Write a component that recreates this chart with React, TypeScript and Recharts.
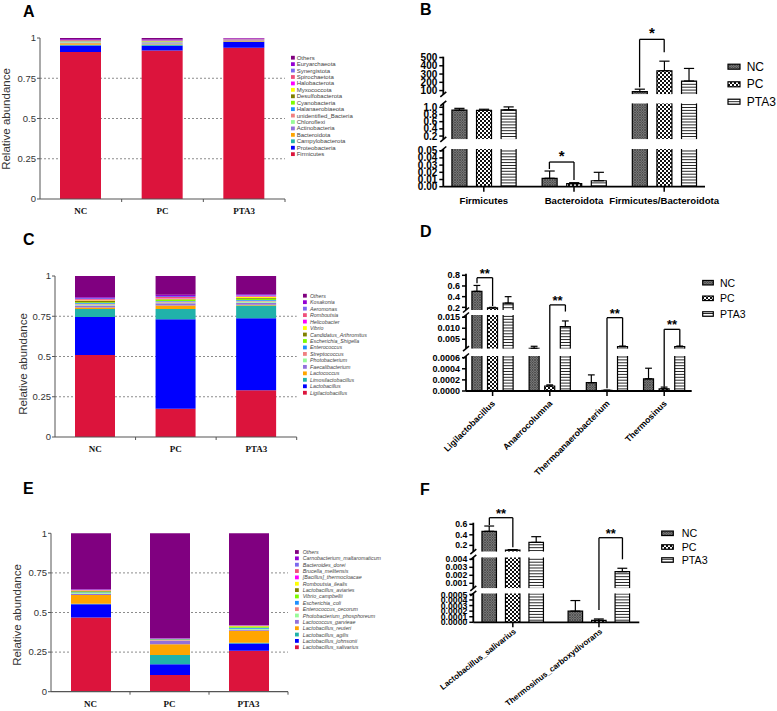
import React from 'react';
import { BarChart, Bar, XAxis, YAxis, CartesianGrid, ErrorBar, ReferenceLine } from 'recharts';

const FONT = '"Liberation Sans", Arial, Helvetica, sans-serif';
const SERIF = '"Liberation Serif", "Times New Roman", serif';

// ---------------- data: stacked panels (bottom -> top order) ----------------
const groups = ['NC', 'PC', 'PTA3'];
const stackColors = ['#DC143C', '#0000FF', '#20B2AA', '#FFA500', '#9370DB', '#98FB98', '#F08080', '#1E90FF', '#7CFC00', '#808000', '#FFFF00', '#FF00FF', '#F0507A', '#7B68EE', '#9400D3', '#800080'];
const stackTicks = [0, 0.25, 0.5, 0.75, 1];
const gridValues = [0.25, 0.5, 0.75];

const phyla = ['Firmicutes', 'Proteobacteria', 'Campylobacterota', 'Bacteroidota', 'Actinobacteria', 'Chloroflexi', 'unidentified_Bacteria', 'Halanaerobiaeota', 'Cyanobacteria', 'Desulfobacterota', 'Myxococcota', 'Halobacterota', 'Spirochaetota', 'Synergistota', 'Euryarchaeota', 'Others'];
const phylaNC = [0.913, 0.041, 0.004, 0.010, 0.004, 0.003, 0.003, 0.002, 0.002, 0.002, 0.001, 0.001, 0.001, 0.001, 0.004, 0.008];
const phylaPC = [0.923, 0.029, 0.006, 0.003, 0.006, 0.003, 0.004, 0.002, 0.002, 0.002, 0.001, 0.001, 0.002, 0.002, 0.004, 0.010];
const phylaPTA3 = [0.940, 0.037, 0.001, 0.007, 0.002, 0.001, 0.001, 0.001, 0.001, 0.001, 0.001, 0.001, 0.001, 0.001, 0.002, 0.002];

const genera = ['Ligilactobacillus', 'Lactobacillus', 'Limosilactobacillus', 'Lactococcus', 'Faecalibacterium', 'Photobacterium', 'Streptococcus', 'Enterococcus', 'Escherichia_Shigella', 'Candidatus_Arthromitus', 'Vibrio', 'Helicobacter', 'Romboutsia', 'Aeromonas', 'Kosakonia', 'Others'];
const generaNC = [0.51, 0.235, 0.05, 0.01, 0.012, 0.006, 0.005, 0.004, 0.005, 0.008, 0.004, 0.003, 0.005, 0.006, 0.005, 0.132];
const generaPC = [0.176, 0.555, 0.064, 0.022, 0.014, 0.005, 0.006, 0.003, 0.008, 0.003, 0.004, 0.004, 0.006, 0.006, 0.008, 0.116];
const generaPTA3 = [0.29, 0.447, 0.079, 0.006, 0.012, 0.007, 0.006, 0.004, 0.008, 0.005, 0.005, 0.004, 0.005, 0.004, 0.004, 0.114];

const species = ['Lactobacillus_salivarius', 'Lactobacillus_johnsonii', 'Lactobacillus_agilis', 'Lactobacillus_reuteri', 'Lactococcus_garvieae', 'Photobacterium_phosphoreum', 'Enterococcus_cecorum', 'Escherichia_coli', 'Vibrio_campbellii', 'Lactobacillus_aviaries', 'Romboutsia_ilealis', '[Bacillus]_thermocloacae', 'Brucella_melitensis', 'Bacteroides_dorei', 'Carnobacterium_maltaromaticum', 'Others'];
const speciesNC = [0.469, 0.083, 0.004, 0.055, 0.008, 0.004, 0.002, 0.003, 0.004, 0.004, 0.003, 0.002, 0.001, 0.002, 0.002, 0.354];
const speciesPC = [0.105, 0.068, 0.059, 0.067, 0.022, 0.003, 0.002, 0.003, 0.002, 0.001, 0.001, 0.001, 0.001, 0.001, 0.001, 0.663];
const speciesPTA3 = [0.259, 0.046, 0.004, 0.076, 0.006, 0.005, 0.002, 0.006, 0.005, 0.003, 0.003, 0.002, 0.001, 0.001, 0.001, 0.58];

// ---------------- data: broken-axis panels ----------------
const catsB = ['Firmicutes', 'Bacteroidota', 'Firmicutes/Bacteroidota'];
const bNC = [0.92, 0.0117, 88];
const bNCErr = [0.05, 0.0101, 29];
const bPC = [0.915, 0.0042, 340];
const bPCErr = [0.03, 0.0014, 116];
const bPTA3 = [0.93, 0.0083, 216];
const bPTA3Err = [0.08, 0.0117, 152];

const catsD = ['Ligilactobacillus', 'Anaerocolumna', 'Thermoanaerobacterium', 'Thermosinus'];
const dNC = [0.5, 0.0009, 0.00015, 0.00022];
const dNCErr = [0.11, 0.0009, 0.00014, 0.00019];
const dPC = [0.19, 0.00009, 0.00001, 0.00004];
const dPCErr = [0.01, 0.00002, 0.000005, 0.00003];
const dPTA3 = [0.28, 0.0107, 0.0016, 0.0016];
const dPTA3Err = [0.12, 0.0026, 0.0003, 0.0003];

const catsF = ['Lactobacillus_salivarius', 'Thermosinus_carboxydivorans'];
const fNC = [0.467, 0.0002];
const fNCErr = [0.1, 0.00019];
const fPC = [0.11, 0.000036];
const fPCErr = [0.01, 0.000024];
const fPTA3 = [0.257, 0.00245];
const fPTA3Err = [0.108, 0.00043];

type Seg = { top: number; bottom: number; domain: [number, number]; ticks: number[]; digits: number };
type Sig = { cat: string; from: number; to: number; seg: number; y: number; y1: number; y2: number; text: string };

const sigB: Sig[] = [
  { cat: 'Bacteroidota', from: 0, to: 1, seg: 2, y: 0.0343, y1: 0.0246, y2: 0.0093, text: '*' },
  { cat: 'Firmicutes/Bacteroidota', from: 0, to: 1, seg: 0, y: 720, y1: 140, y2: 563, text: '*' },
];
const sigD: Sig[] = [
  { cat: 'Ligilactobacillus', from: 0, to: 1, seg: 0, y: 0.755, y1: 0.65, y2: 0.225, text: '**' },
  { cat: 'Anaerocolumna', from: 1, to: 2, seg: 2, y: 0.00155, y1: 0.00014, y2: 0.00143, text: '**' },
  { cat: 'Thermoanaerobacterium', from: 1, to: 2, seg: 2, y: 0.00132, y1: 0.00005, y2: 0.00081, text: '**' },
  { cat: 'Thermosinus', from: 1, to: 2, seg: 2, y: 0.00111, y1: 0.000077, y2: 0.00081, text: '**' },
];
const sigF: Sig[] = [
  { cat: 'Lactobacillus_salivarius', from: 0, to: 1, seg: 0, y: 0.725, y1: 0.586, y2: 0.163, text: '**' },
  { cat: 'Thermosinus_carboxydivorans', from: 1, to: 2, seg: 2, y: 0.001517, y1: 0.00022, y2: 0.00113, text: '**' },
];

const segsB: Seg[] = [
  { top: 56.7, bottom: 94.3, domain: [55, 510], ticks: [100, 200, 300, 400, 500], digits: 0 },
  { top: 103.3, bottom: 139.3, domain: [0.11, 1.11], ticks: [0.2, 0.4, 0.6, 0.8, 1.0], digits: 1 },
  { top: 149, bottom: 186.7, domain: [0, 0.0524], ticks: [0, 0.01, 0.02, 0.03, 0.04, 0.05], digits: 2 },
];
const segsD: Seg[] = [
  { top: 273.7, bottom: 310, domain: [0.15, 0.83], ticks: [0.2, 0.4, 0.6, 0.8], digits: 1 },
  { top: 315, bottom: 348.7, domain: [0.0007, 0.016], ticks: [0.005, 0.01, 0.015], digits: 3 },
  { top: 356, bottom: 391, domain: [0, 0.00063], ticks: [0, 0.0002, 0.0004, 0.0006], digits: 4 },
];
const segsF: Seg[] = [
  { top: 522.7, bottom: 551.7, domain: [0.08, 0.63], ticks: [0.2, 0.4, 0.6], digits: 1 },
  { top: 557.3, bottom: 588.3, domain: [0.000375, 0.00425], ticks: [0.001, 0.002, 0.003, 0.004], digits: 3 },
  { top: 593.3, bottom: 622.3, domain: [0, 0.00052], ticks: [0, 0.0001, 0.0002, 0.0003, 0.0004, 0.0005], digits: 4 },
];

// ---------------- helpers ----------------
type Box = { left: number; top: number; width: number; height: number };
type Plot = { left: number; right: number; top: number; bottom: number };

function stackRows(names: string[], perGroup: number[][]) {
  return groups.map((g, gi) => {
    const row: Record<string, any> = { group: g };
    names.forEach((_, i) => {
      row['s' + i] = perGroup[gi][i];
    });
    return row;
  });
}

const SLOT_OF = [2, 5, 8];
const slotKey = (c: string, k: number) => `${c}#${k}`;
type SlotRow = { slot: string; group: string | null; value: number | null; err: number | null; label: string | null };

function buildSlots(cats: string[], vals: number[][], errs: number[][]): SlotRow[] {
  const rows: SlotRow[] = [];
  cats.forEach((c, ci) => {
    for (let k = 0; k < 11; k++) {
      const gi = SLOT_OF.indexOf(k);
      rows.push({
        slot: slotKey(c, k),
        group: gi >= 0 ? groups[gi] : null,
        value: gi >= 0 ? vals[gi][ci] : null,
        err: gi >= 0 ? errs[gi][ci] : null,
        label: k === 5 ? c : null,
      });
    }
  });
  return rows.slice(1, -1);
}

function segRows(rows: SlotRow[], seg: Seg) {
  const [lo, hi] = seg.domain;
  return rows.map((r) => {
    if (r.value == null || r.value < lo) return { ...r, v: null, e: null };
    const inside = r.value <= hi;
    return { ...r, v: Math.min(r.value, hi), e: inside ? [0, Math.min(r.err ?? 0, hi - r.value)] : null };
  });
}

function barShape(p: any, barW: number, hi: number) {
  const { x, y, width, height, payload } = p;
  if (!payload || payload.v == null || !isFinite(x) || !isFinite(y)) return <g />;
  const cx = x + width / 2;
  const l = cx - barW / 2;
  const r = cx + barW / 2;
  const top = Math.min(y, y + height);
  const bot = Math.max(y, y + height);
  const open = payload.value > hi;
  const d = open ? `M${l},${bot}V${top}M${r},${top}V${bot}` : `M${l},${bot}V${top}H${r}V${bot}`;
  return (
    <g>
      <rect x={l} y={top} width={barW} height={bot - top} fill={`url(#pat${payload.group})`} />
      <path d={d} fill="none" stroke="#000" strokeWidth={1.2} />
    </g>
  );
}

const renderStackTick = (p: any) => {
  const { x, y, payload } = p;
  const half = payload && typeof payload.offset === 'number' ? payload.offset : 0;
  return (
    <g>
      {half > 0 && <line x1={x + half} x2={x + half} y1={y} y2={y + 3} stroke="#555" strokeWidth={1} />}
      <text x={x} y={y + 15} textAnchor="middle" fontFamily={SERIF} fontWeight={700} fontSize={9} fill="#111">
        {payload.value}
      </text>
    </g>
  );
};

function PatternDefs() {
  return (
    <svg width={0} height={0} style={{ position: 'absolute', left: 0, top: 0 }}>
      <defs>
        <pattern id="patNC" width="2.5" height="2.5" patternUnits="userSpaceOnUse">
          <rect width="2.5" height="2.5" fill="#8a8a8a" />
          <path d="M0,0 L2.5,2.5 M2.5,0 L0,2.5" stroke="#2e2e2e" strokeWidth="0.6" />
        </pattern>
        <pattern id="patPC" width="4" height="4" patternUnits="userSpaceOnUse">
          <rect width="4" height="4" fill="#fff" />
          <rect width="2" height="2" fill="#111" />
          <rect x="2" y="2" width="2" height="2" fill="#111" />
        </pattern>
        <pattern id="patPTA3" width="4" height="2.9" patternUnits="userSpaceOnUse">
          <rect width="4" height="2.9" fill="#fff" />
          <rect y="0" width="4" height="0.9" fill="#111" />
        </pattern>
      </defs>
    </svg>
  );
}

type LegendSpec = { sx: number; tx: number; y0: number; step: number; fs: number; italic: boolean };

function StackPanel(props: { box: Box; plot: Plot; names: string[]; values: number[][]; barSize: number; title: { x: number; y: number }; legend: LegendSpec; tickFs: number }) {
  const { box, plot, names, values, barSize, title, legend, tickFs } = props;
  const rows = stackRows(names, values);
  const yw = plot.left - box.left;
  const xh = box.top + box.height - plot.bottom;
  const L = (x: number) => x - box.left;
  const T = (y: number) => y - box.top;
  return (
    <div style={{ position: 'absolute', left: box.left, top: box.top, width: box.width, height: box.height }}>
      <BarChart width={box.width} height={box.height} data={rows} barSize={barSize}
        margin={{ top: plot.top - box.top, right: box.left + box.width - plot.right, bottom: 0, left: 0 }}>
        <CartesianGrid vertical={false} horizontalValues={gridValues} stroke="#8c8c8c" strokeDasharray="2 2" />
        <XAxis dataKey="group" height={xh} interval={0} tickSize={0} tickMargin={0} tickLine={false}
          axisLine={{ stroke: '#555', strokeWidth: 1.2 }} tick={renderStackTick} />
        <YAxis width={yw} domain={[0, 1]} ticks={stackTicks} interval={0} tickSize={3} tickMargin={1} stroke="#555"
          tick={{ fontSize: tickFs, fill: '#333' }} tickFormatter={(v: number) => String(v)} />
        {names.map((n, i) => (
          <Bar key={n} dataKey={'s' + i} name={n} stackId="s" fill={stackColors[i]} isAnimationActive={false} />
        ))}
      </BarChart>
      <svg width={box.width} height={box.height} style={{ position: 'absolute', left: 0, top: 0, pointerEvents: 'none' }}>
        <text transform={`translate(${L(title.x)},${T(title.y)}) rotate(-90)`} textAnchor="middle" dominantBaseline="central" fontSize={11.5} fill="#333">
          Relative abundance
        </text>
        {names.map((n, i) => {
          const j = names.length - 1 - i;
          const y = T(legend.y0 + j * legend.step);
          return (
            <g key={n}>
              <rect x={L(legend.sx)} y={y - 1.9} width={3.8} height={3.8} fill={stackColors[i]} />
              <text x={L(legend.tx)} y={y} dominantBaseline="central" fontSize={legend.fs} fontStyle={legend.italic ? 'italic' : 'normal'} fill="#444">
                {n}
              </text>
            </g>
          );
        })}
      </svg>
    </div>
  );
}

type LabelSpec = { angle: number; fs: number; dx: number; dy: number };
type GLegend = { x: number; tx: number; ys: number[]; fs: number; swW: number; swH: number };

function BrokenPanel(props: {
  box: Box; axisLeft: number; axisRight: number; padL: number; padR: number; segs: Seg[];
  cats: string[]; vals: number[][]; errs: number[][]; sigs: Sig[]; barW: number; tickFs: number;
  label: LabelSpec; sigFs: number; sigOffset: number; legend: GLegend; yw: number;
}) {
  const { box, axisLeft, axisRight, padL, padR, segs, cats, vals, errs, sigs, barW, tickFs, label, sigFs, sigOffset, legend, yw } = props;
  const rows = buildSlots(cats, vals, errs);
  const L = (x: number) => x - box.left;
  const T = (y: number) => y - box.top;
  const last = segs.length - 1;
  const tick = (p: any) => {
    const { x, y, payload } = p;
    const row = rows.find((r) => r.slot === payload.value);
    if (!row || !row.label) return <g />;
    return (
      <g>
        <line x1={x} x2={x} y1={y} y2={y + 5} stroke="#000" strokeWidth={1.5} />
        {label.angle === 0 ? (
          <text x={x} y={y + label.dy} textAnchor="middle" fontSize={label.fs} fontWeight={700} fill="#000">
            {row.label}
          </text>
        ) : (
          <text x={x + label.dx} y={y + label.dy} dy="0.35em" textAnchor="end" fontSize={label.fs} fontWeight={700} fill="#000"
            transform={`rotate(${label.angle}, ${x + label.dx}, ${y + label.dy})`}>
            {row.label}
          </text>
        )}
      </g>
    );
  };
  return (
    <div style={{ position: 'absolute', left: box.left, top: box.top, width: box.width, height: box.height }}>
      {segs.map((seg, si) => {
        const isLast = si === last;
        const data = segRows(rows, seg);
        const below = box.top + box.height - seg.bottom;
        const hi = seg.domain[1];
        return (
          <div key={si} style={{ position: 'absolute', left: 0, top: 0 }}>
            <BarChart width={box.width} height={box.height} data={data}
              margin={{ top: seg.top - box.top, right: box.left + box.width - axisRight, bottom: isLast ? 0 : below, left: axisLeft - box.left - yw }}>
              <XAxis dataKey="slot" hide={!isLast} height={isLast ? below : 0} interval={0} tickSize={0} tickMargin={0} tickLine={false}
                padding={{ left: padL, right: padR }} axisLine={{ stroke: '#000', strokeWidth: 1.8 }} tick={tick} />
              <YAxis width={yw} domain={seg.domain} allowDataOverflow ticks={seg.ticks} interval={0} tickSize={4} tickMargin={2} stroke="#000"
                axisLine={{ stroke: '#000', strokeWidth: 1.8 }} tickLine={{ stroke: '#000', strokeWidth: 1.5 }}
                tick={{ fontSize: tickFs, fontWeight: 700, fill: '#000' }} tickFormatter={(v: number) => v.toFixed(seg.digits)} />
              <Bar dataKey="v" isAnimationActive={false} shape={(p: any) => barShape(p, barW, hi)}>
                <ErrorBar dataKey="e" width={barW * 0.34} stroke="#000" strokeWidth={1.2} isAnimationActive={false} />
              </Bar>
              {sigs.filter((s) => s.seg === si).flatMap((s, k) => {
                const xa = slotKey(s.cat, SLOT_OF[s.from]);
                const xb = slotKey(s.cat, SLOT_OF[s.to]);
                return [
                  <ReferenceLine key={`${k}a`} segment={[{ x: xa, y: s.y1 }, { x: xa, y: s.y }]} stroke="#000" strokeWidth={1.3} ifOverflow="visible" />,
                  <ReferenceLine key={`${k}b`} segment={[{ x: xa, y: s.y }, { x: xb, y: s.y }]} stroke="#000" strokeWidth={1.3} ifOverflow="visible"
                    label={{ value: s.text, position: 'top', offset: sigOffset, fontSize: sigFs, fontWeight: 700, fill: '#000' }} />,
                  <ReferenceLine key={`${k}c`} segment={[{ x: xb, y: s.y }, { x: xb, y: s.y2 }]} stroke="#000" strokeWidth={1.3} ifOverflow="visible" />,
                ];
              })}
            </BarChart>
          </div>
        );
      })}
      <svg width={box.width} height={box.height} style={{ position: 'absolute', left: 0, top: 0, pointerEvents: 'none' }}>
        {segs.slice(0, -1).map((s, i) => {
          const ax = L(axisLeft);
          const ya = T(s.bottom);
          const yb = T(segs[i + 1].top);
          return (
            <g key={i} stroke="#000" strokeWidth={1.6}>
              <line x1={ax - 3} y1={ya + 2.5} x2={ax + 3} y2={ya - 2.5} />
              <line x1={ax - 3} y1={yb + 2.5} x2={ax + 3} y2={yb - 2.5} />
            </g>
          );
        })}
        {groups.map((g, i) => (
          <g key={g}>
            <rect x={L(legend.x)} y={T(legend.ys[i]) - legend.swH / 2} width={legend.swW} height={legend.swH} fill={`url(#pat${g})`} stroke="#000" strokeWidth={1.2} />
            <text x={L(legend.tx)} y={T(legend.ys[i])} dominantBaseline="central" fontSize={legend.fs} fill="#000">
              {g}
            </text>
          </g>
        ))}
      </svg>
    </div>
  );
}

export default function App() {
  return (
    <div style={{ position: 'absolute', left: 0, top: 0, width: 777, height: 711, background: '#fff', overflow: 'hidden', fontFamily: FONT }}>
      <PatternDefs />
      <StackPanel box={{ left: 0, top: 0, width: 395, height: 225 }} plot={{ left: 40, right: 285, top: 38, bottom: 199 }}
        names={phyla} values={[phylaNC, phylaPC, phylaPTA3]} barSize={41} title={{ x: 5.5, y: 119 }} tickFs={9.5}
        legend={{ sx: 291, tx: 296.7, y0: 57.7, step: 6.43, fs: 6, italic: false }} />
      <StackPanel box={{ left: 0, top: 230, width: 395, height: 232 }} plot={{ left: 55, right: 296.7, top: 276, bottom: 437 }}
        names={genera} values={[generaNC, generaPC, generaPTA3]} barSize={40} title={{ x: 22.5, y: 364 }} tickFs={9.5}
        legend={{ sx: 303, tx: 310, y0: 295.7, step: 6.47, fs: 5.3, italic: true }} />
      <StackPanel box={{ left: 0, top: 470, width: 395, height: 241 }} plot={{ left: 51, right: 288, top: 533.3, bottom: 691.7 }}
        names={species} values={[speciesNC, speciesPC, speciesPTA3]} barSize={40} title={{ x: 17, y: 615 }} tickFs={9.5}
        legend={{ sx: 295, tx: 302.7, y0: 552, step: 6.35, fs: 5.3, italic: true }} />

      <BrokenPanel box={{ left: 400, top: 20, width: 377, height: 190 }} axisLeft={443.3} axisRight={705} padL={3.6} padR={3.9} segs={segsB}
        cats={catsB} vals={[bNC, bPC, bPTA3]} errs={[bNCErr, bPCErr, bPTA3Err]} sigs={sigB} barW={15} tickFs={10} yw={40}
        label={{ angle: 0, fs: 9.6, dx: 0, dy: 17 }} sigFs={15} sigOffset={1}
        legend={{ x: 728, tx: 746.7, ys: [66.7, 84.3, 101.7], fs: 12, swW: 12, swH: 5 }} />
      <BrokenPanel box={{ left: 400, top: 255, width: 377, height: 237 }} axisLeft={466} axisRight={691.7} padL={3.2} padR={4.1} segs={segsD}
        cats={catsD} vals={[dNC, dPC, dPTA3]} errs={[dNCErr, dPCErr, dPTA3Err]} sigs={sigD} barW={10} tickFs={9} yw={44}
        label={{ angle: -45, fs: 8.7, dx: 1, dy: 11 }} sigFs={13} sigOffset={0}
        legend={{ x: 702.7, tx: 720, ys: [282.7, 298.3, 314], fs: 10.5, swW: 10.6, swH: 4.5 }} />
      <BrokenPanel box={{ left: 400, top: 495, width: 377, height: 216 }} axisLeft={473.3} axisRight={639.3} padL={4.3} padR={5.1} segs={segsF}
        cats={catsF} vals={[fNC, fPC, fPTA3]} errs={[fNCErr, fPCErr, fPTA3Err]} sigs={sigF} barW={14.5} tickFs={8.7} yw={48}
        label={{ angle: -38, fs: 8.1, dx: 2, dy: 8 }} sigFs={13} sigOffset={0}
        legend={{ x: 661.7, tx: 681.7, ys: [533.3, 547, 560], fs: 10.7, swW: 11.6, swH: 4.5 }} />

      <svg width={777} height={711} style={{ position: 'absolute', left: 0, top: 0, pointerEvents: 'none' }}>
        <g fontSize={16} fontWeight={700} fill="#000">
          <text x={23} y={16.5}>A</text>
          <text x={420} y={14.5}>B</text>
          <text x={23} y={244.5}>C</text>
          <text x={420} y={236.5}>D</text>
          <text x={23} y={493.5}>E</text>
          <text x={420} y={494.5}>F</text>
        </g>
      </svg>
    </div>
  );
}
